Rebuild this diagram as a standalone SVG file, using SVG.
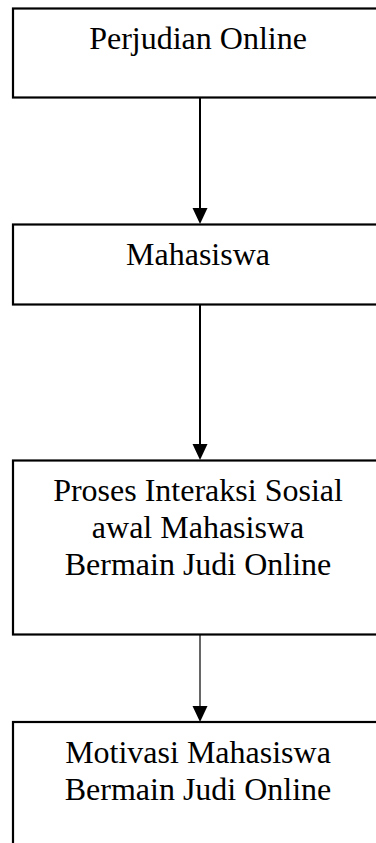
<svg xmlns="http://www.w3.org/2000/svg" width="376" height="843" viewBox="0 0 376 843">
<style>
.box{fill:#fff;stroke:#000;stroke-width:2.2}
.lbl{font-family:"Liberation Serif","Times New Roman",serif;font-size:32px;fill:#000;text-anchor:middle}
.ln{stroke:#000;fill:none}
.hd{fill:#000}
</style>
<rect width="376" height="843" fill="#fff"/>
<g id="connectors">
<line class="ln" x1="200" y1="98" x2="200" y2="212" stroke-width="2"/>
<polygon class="hd" points="192.5,208 207.5,208 200,224"/>
<line class="ln" x1="200" y1="305" x2="200" y2="448" stroke-width="2"/>
<polygon class="hd" points="192.5,444 207.5,444 200,460"/>
<line class="ln" x1="200" y1="635" x2="200" y2="710" stroke-width="1.2"/>
<polygon class="hd" points="192.5,706 207.5,706 200,722"/>
</g>
<g id="n1">
<rect class="box" x="13" y="8.5" width="380" height="89"/>
<text class="lbl" x="198" y="49">Perjudian Online</text>
</g>
<g id="n2">
<rect class="box" x="13" y="224.5" width="380" height="80"/>
<text class="lbl" x="198" y="265">Mahasiswa</text>
</g>
<g id="n3">
<rect class="box" x="13" y="460.5" width="380" height="174"/>
<text class="lbl" x="198" y="501">Proses Interaksi Sosial</text>
<text class="lbl" x="198" y="538">awal Mahasiswa</text>
<text class="lbl" x="198" y="575">Bermain Judi Online</text>
</g>
<g id="n4">
<rect class="box" x="13" y="722" width="380" height="140"/>
<text class="lbl" x="198" y="763">Motivasi Mahasiswa</text>
<text class="lbl" x="198" y="800">Bermain Judi Online</text>
</g>
</svg>
